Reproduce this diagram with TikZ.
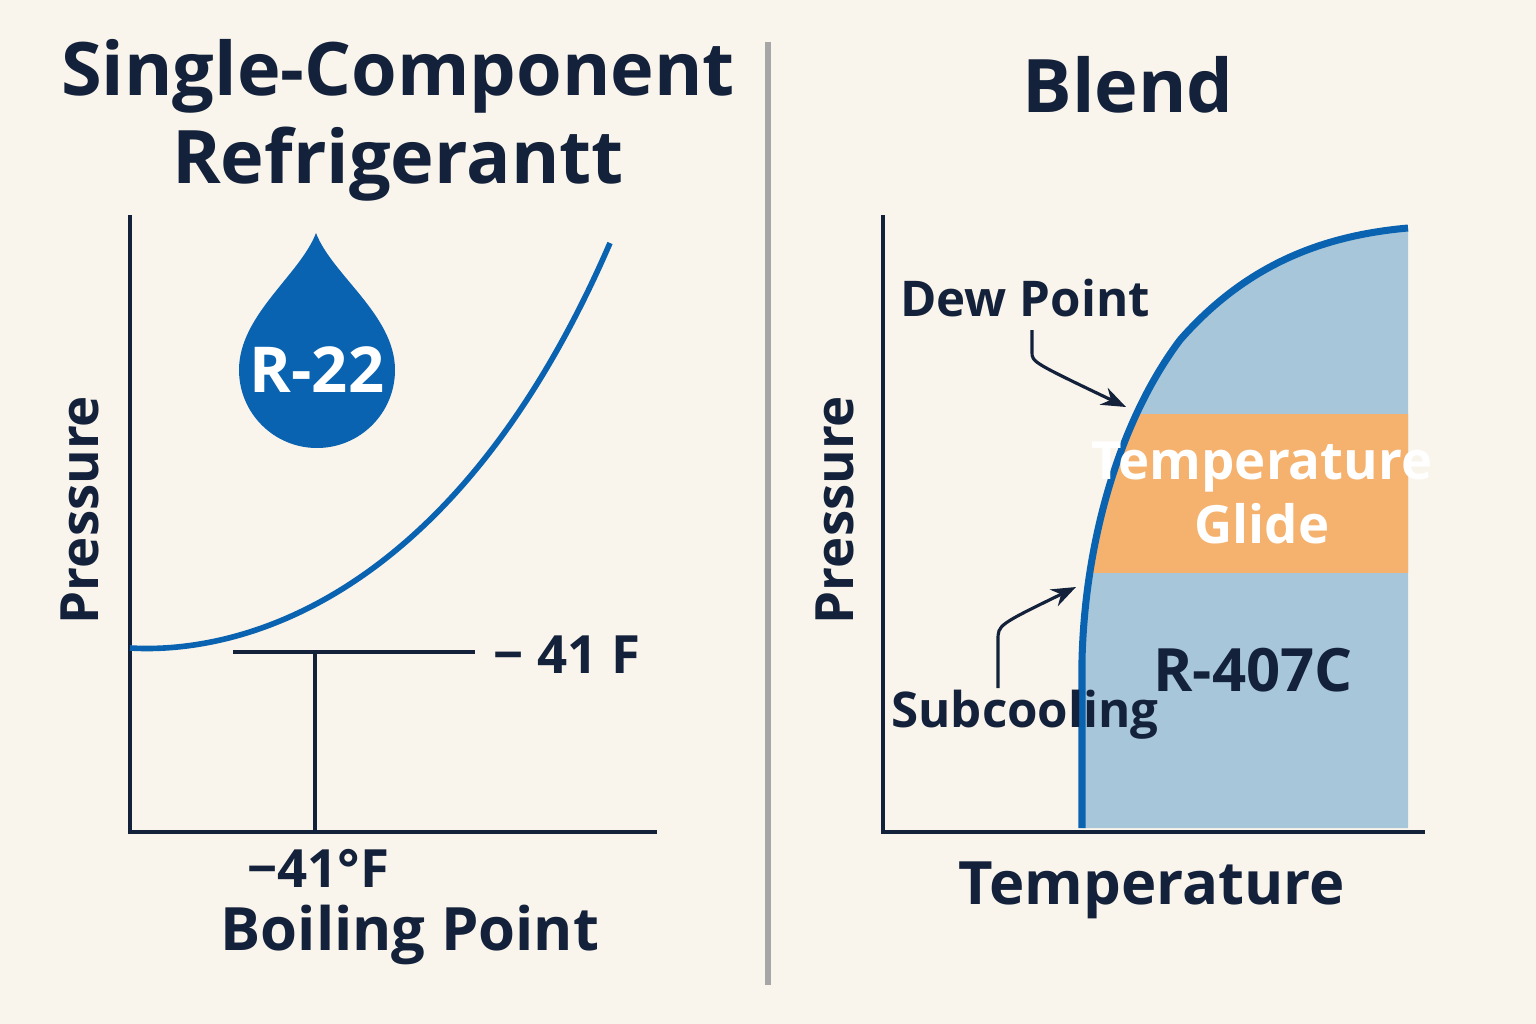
\documentclass[tikz,border=0pt]{standalone}
\usepackage{fontspec}
\setmainfont{Open Sans}
\usetikzlibrary{arrows.meta, positioning}
\definecolor{bgc}{HTML}{FAF5EC}
\definecolor{ink}{HTML}{13213A}
\definecolor{curveblue}{HTML}{0A63B0}
\definecolor{regionblue}{HTML}{A8C6DA}
\definecolor{glide}{HTML}{F5B26E}
\begin{document}
\begin{tikzpicture}[
    x=0.01cm, y=-0.01cm,
    axis/.style={draw=ink, line width=1.3pt},
    curve/.style={draw=curveblue, line width=1.6pt},
    label/.style={text=ink, font=\bfseries\fontsize{15}{18}\selectfont, inner sep=0pt},
    title/.style={text=ink, font=\bfseries\fontsize{21}{25}\selectfont, align=center, inner sep=0pt},
    pointer/.style={draw=ink, line width=0.9pt, -{Stealth[length=7pt]}}
]
\fill[bgc] (0,0) rectangle (1536,1024);
\useasboundingbox (0,0) rectangle (1536,1024);

% Left panel
\node[title] (lefttitle) at (398,120) {Single-Component\\Refrigerantt};
\draw[axis] (130,215) coordinate (ltop) -- (130,832) coordinate (lorigin) -- (657,832) coordinate (lright);
\draw[curve] (130,648) .. controls (250,655) and (460,590) .. (610,243);
\draw[axis, line width=1pt] (233,652) coordinate (tickl) -- (475,652) coordinate (tickr);
\draw[axis, line width=1pt] (315,652) coordinate (vtop) -- (315,832) coordinate (vbot);
\fill[curveblue] (316,233) .. controls (332,275) and (395,315) .. (395,370)
    arc[start angle=0, end angle=180, radius=78]
    .. controls (239,315) and (300,275) .. (316,233);
\node[text=white, font=\bfseries\fontsize{18}{20}\selectfont] (r22) at (317,370) {R-22};
\node[label] (lvalue) at (567,655) {− 41 F};
\node[label] (bvalue) at (318,868) {−41°F};
\node[label, font=\bfseries\fontsize{17}{20}\selectfont] (bp) at (410,935) {Boiling Point};
\node[label, rotate=90] (lpress) at (80,510) {Pressure};

% Divider
\draw[gray!70, line width=1.5pt] (768,42) -- (768,985);

% Right panel
\node[title] (righttitle) at (1128,85) {Blend};
\begin{scope}
  \clip (1082,828) -- (1082,660) .. controls (1085,540) and (1120,420) .. (1180,340)
        .. controls (1250,260) and (1330,235) .. (1408,228) -- (1408,828) -- cycle;
  \fill[regionblue] (1000,200) rectangle (1420,830);
  \fill[glide] (1000,414) rectangle (1420,573);
\end{scope}
\draw[curve, line width=2pt] (1082,828) -- (1082,660) .. controls (1085,540) and (1120,420) .. (1180,340)
        .. controls (1250,260) and (1330,235) .. (1408,228);
\draw[axis] (883,215) -- (883,832) -- (1425,832);
\node[text=white, font=\bfseries\fontsize{15}{18}\selectfont, align=center] (glidelabel) at (1262,493) {Temperature\\Glide};
\node[label, font=\bfseries\fontsize{17}{20}\selectfont] (blendname) at (1253,670) {R-407C};
\node[label, font=\bfseries\fontsize{17}{20}\selectfont] (rtemp) at (1152,890) {Temperature};
\node[label, rotate=90] (rpress) at (835,510) {Pressure};
\node[label, font=\bfseries\fontsize{14}{17}\selectfont] (dew) at (1025,298) {Dew Point};
\node[label, font=\bfseries\fontsize{14}{17}\selectfont] (sub) at (1025,715) {Subcooling};
\coordinate (dewtip) at (1126,407);
\coordinate (subtip) at (1076,587);
\draw[pointer] (1032,330) -- (1032,352) .. controls (1032,362) .. (dewtip);
\draw[pointer] (998,688) -- (998,640) .. controls (998,625) .. (subtip);
\end{tikzpicture}
\end{document}
